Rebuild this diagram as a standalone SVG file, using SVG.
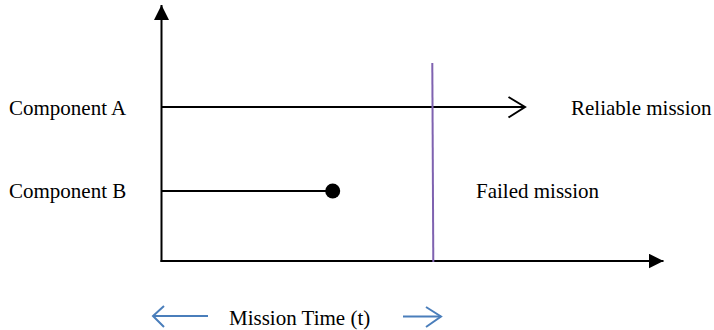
<svg xmlns="http://www.w3.org/2000/svg" width="714" height="330" viewBox="0 0 714 330">
  <style>
    .lbl { font-family: "Liberation Serif", "Times New Roman", serif; font-size: 21px; fill: #000; }
    .ax { stroke: #000; stroke-width: 2; fill: none; }
    .blue { stroke: #4a7ebb; stroke-width: 2; fill: none; }
  </style>
  <defs>
    <marker id="solidHead" markerUnits="userSpaceOnUse" markerWidth="16" markerHeight="16" refX="15" refY="7.5" orient="auto">
      <path d="M0,0 L15,7.5 L0,15 Z" fill="#000"/>
    </marker>
  </defs>
  <rect width="714" height="330" fill="#fff"/>

  <g id="connectors">
    <!-- axes -->
    <line id="y-axis" class="ax" x1="161.5" y1="262" x2="161.5" y2="5" marker-end="url(#solidHead)"/>
    <line id="x-axis" class="ax" x1="160.5" y1="261" x2="663.5" y2="261" marker-end="url(#solidHead)"/>
    <!-- component A: survives the mission -->
    <line class="ax" x1="161.5" y1="107" x2="525" y2="107"/>
    <polyline class="ax" points="508.5,97 525,107 508.5,117.5"/>
    <!-- component B: fails early -->
    <line class="ax" x1="161.5" y1="191" x2="332" y2="191"/>
    <circle cx="332.7" cy="191" r="7.5" fill="#000"/>
    <!-- mission end marker -->
    <line x1="432.3" y1="63" x2="433.3" y2="262" stroke="#7f62b0" stroke-width="2"/>
    <!-- mission time span -->
    <line class="blue" x1="153" y1="316" x2="208" y2="316"/>
    <polyline class="blue" points="164,306 153,316 164,327"/>
    <line class="blue" x1="403" y1="316.5" x2="441" y2="316.5"/>
    <polyline class="blue" points="426,307 441,316.5 426,327"/>
  </g>

  <g id="component-a"><text class="lbl" x="9" y="115">Component A</text></g>
  <g id="component-b"><text class="lbl" x="9" y="198">Component B</text></g>
  <g id="reliable-mission"><text class="lbl" x="571" y="115">Reliable mission</text></g>
  <g id="failed-mission"><text class="lbl" x="476" y="198">Failed mission</text></g>
  <g id="mission-time"><text class="lbl" x="229" y="325">Mission Time (t)</text></g>
</svg>
